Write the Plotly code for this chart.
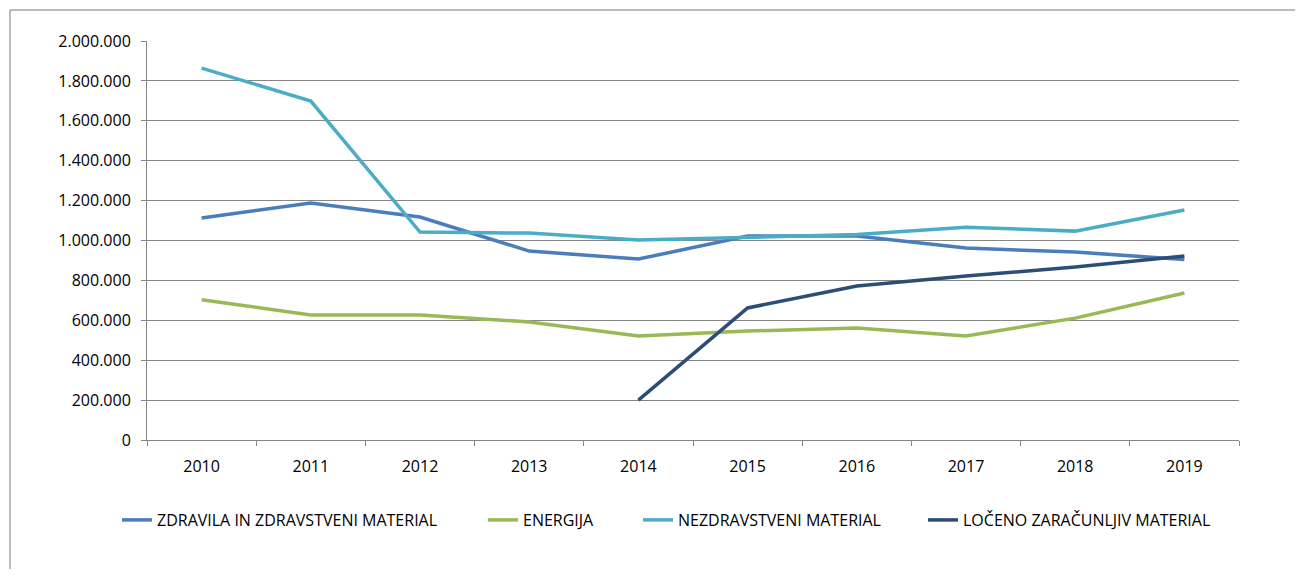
import plotly.graph_objects as go

years = ["2010", "2011", "2012", "2013", "2014", "2015", "2016", "2017", "2018", "2019"]
zdravila = [1113000, 1188000, 1118000, 947000, 907000, 1022000, 1022000, 962000, 942000, 905000]
energija = [703000, 627000, 627000, 592000, 521000, 546000, 561000, 521000, 611000, 737000]
nezdravstveni = [1864000, 1699000, 1042000, 1037000, 1002000, 1017000, 1030000, 1067000, 1047000, 1153000]
loceno = [None, None, None, None, 200000, 662000, 772000, 822000, 867000, 922000]

names = ["ZDRAVILA IN ZDRAVSTVENI MATERIAL", "ENERGIJA", "NEZDRAVSTVENI MATERIAL", "LOČENO ZARAČUNLJIV MATERIAL"]
colors = ["#4A7EBB", "#98B954", "#4BACC6", "#2C4D75"]
series = [zdravila, energija, nezdravstveni, loceno]

OFF = 8  # page body margin
W, H = 1303 - 2 * OFF, 577 - 2 * OFF
L, T = 147 - OFF, 41 - OFF
R = W - (1239 - OFF)
B = H - (440 - OFF)
pw, ph = W - L - R, H - T - B

def px2x(p):
    return (p - OFF - L) / pw

def py2y(p):
    return (H - B - (p - OFF)) / ph

def cx(p):
    return (p - OFF) / W

def cy(p):
    return 1 - (p - OFF) / H

legend_starts = [122, 488, 643, 928]
legend_keys = ["legend", "legend2", "legend3", "legend4"]

fig = go.Figure()
for n, c, s, lk in zip(names, colors, series, legend_keys):
    fig.add_trace(go.Scatter(x=years, y=s, name=n, mode="lines",
                             line=dict(color=c, width=3.5), legend=lk,
                             showlegend=True, connectgaps=False))

font = dict(family="Open Sans, Noto Sans, sans-serif", size=16, color="#000000")
leg_font = dict(family="Open Sans, Noto Sans, sans-serif", size=16, color="#000000")

frame = dict(color="#A6A6A6", width=1.5)
layout = dict(
    width=W, height=H,
    showlegend=True,
    margin=dict(l=L, r=R, t=T, b=B, pad=0, autoexpand=False),
    paper_bgcolor="white", plot_bgcolor="white",
    separators=",.",
    font=font,
    xaxis=dict(type="category", range=[-0.5, 9.5], showgrid=False,
               showline=True, linecolor="#868686", linewidth=1,
               ticks="outside", tickson="boundaries", ticklen=5, tickcolor="#868686",
               tickfont=font, automargin=False, ticklabelstandoff=12),
    yaxis=dict(range=[0, 2000000], dtick=200000, tickformat=",d",
               showgrid=True, gridcolor="#868686", gridwidth=1,
               showline=True, linecolor="#868686", linewidth=1,
               ticks="outside", ticklen=5, tickcolor="#868686",
               zeroline=False, tickfont=font, automargin=False, ticklabelstandoff=7),
    shapes=[
        dict(type="line", xref="paper", yref="paper",
             x0=px2x(10), x1=px2x(1400), y0=py2y(10), y1=py2y(10), line=frame, layer="below"),
        dict(type="line", xref="paper", yref="paper",
             x0=px2x(10), x1=px2x(10), y0=py2y(10), y1=py2y(700), line=frame, layer="below"),
    ],
)
for lk, st in zip(legend_keys, legend_starts):
    layout[lk] = dict(x=cx(st - 5), xanchor="left", xref="container",
                      y=cy(520), yanchor="middle", yref="container",
                      orientation="h", font=leg_font, bgcolor="rgba(0,0,0,0)",
                      itemwidth=30, borderwidth=0)
fig.update_layout(**layout)

fig.write_html("out.html")
